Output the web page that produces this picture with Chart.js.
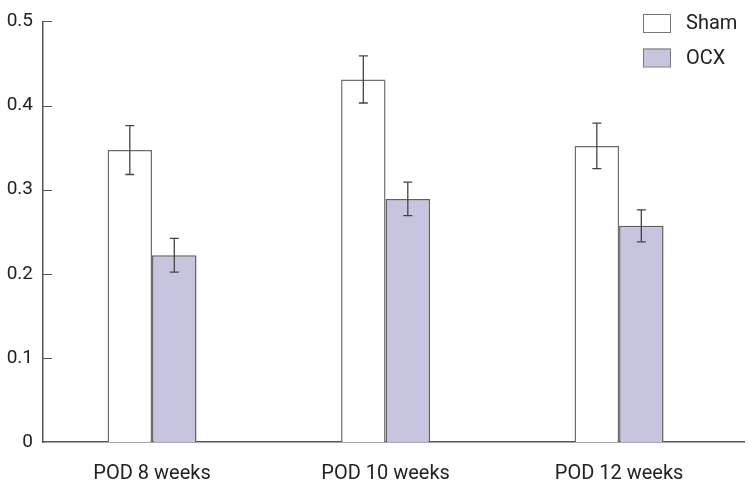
<!DOCTYPE html>
<html lang="en">
<head>
    <meta charset="UTF-8">
    <title>POD bars</title>
    <script src="https://cdn.jsdelivr.net/npm/chart.js@4.4.1/dist/chart.umd.min.js"></script>
    <style>
        html, body { margin: 0; padding: 0; background: #fff; }
        .wrap { width: 751px; height: 488px; }
    </style>
</head>
<body>
    <div class="wrap">
        <canvas id="barChart" width="751" height="488"></canvas>
    </div>

    <script>
        // data
        const categories = ['POD 8 weeks', 'POD 10 weeks', 'POD 12 weeks'];
        const shamValues = [0.347, 0.431, 0.352];
        const shamErrors = [0.029, 0.028, 0.027];
        const ocxValues = [0.222, 0.289, 0.257];
        const ocxErrors = [0.020, 0.020, 0.019];
        const yTicks = [0, 0.1, 0.2, 0.3, 0.4, 0.5];

        const FONT = 'Roboto, "DejaVu Sans Condensed", sans-serif';
        const AXIS = '#555';

        // bars sit on a numeric x axis so the groups line up like the original
        function toPoints(vals) {
            return vals.map(function (v, i) { return { x: i + 1, y: v }; });
        }

        const errorBars = {
            id: 'errorBars',
            afterDatasetsDraw(chart) {
                const ctx = chart.ctx;
                const y = chart.scales.y;
                ctx.save();
                ctx.strokeStyle = '#444';
                ctx.lineWidth = 1.3;
                chart.data.datasets.forEach(function (ds, di) {
                    const meta = chart.getDatasetMeta(di);
                    meta.data.forEach(function (bar, i) {
                        const v = ds.data[i].y, e = ds.errors[i];
                        const top = y.getPixelForValue(v + e);
                        const bot = y.getPixelForValue(v - e);
                        ctx.beginPath();
                        ctx.moveTo(bar.x, top); ctx.lineTo(bar.x, bot);
                        ctx.moveTo(bar.x - 4.5, top); ctx.lineTo(bar.x + 4.5, top);
                        ctx.moveTo(bar.x - 4.5, bot); ctx.lineTo(bar.x + 4.5, bot);
                        ctx.stroke();
                    });
                });
                ctx.restore();
            }
        };

        // tick marks point into the plot on the y axis
        const innerTicks = {
            id: 'innerTicks',
            afterDraw(chart) {
                const ctx = chart.ctx;
                const y = chart.scales.y;
                const left = chart.chartArea.left;
                ctx.save();
                ctx.strokeStyle = AXIS;
                ctx.lineWidth = 1;
                y.ticks.forEach(function (t, i) {
                    if (t.value === 0) return;
                    const py = Math.round(y.getPixelForTick(i)) + 0.5;
                    ctx.beginPath();
                    ctx.moveTo(left, py); ctx.lineTo(left + 9, py);
                    ctx.stroke();
                });
                ctx.restore();
            }
        };

        const boxLegend = {
            id: 'boxLegend',
            afterDraw(chart) {
                const ctx = chart.ctx;
                ctx.save();
                ctx.font = '20px ' + FONT;
                ctx.textBaseline = 'middle';
                chart.data.datasets.forEach(function (ds, i) {
                    const top = 14 + i * 34.5;
                    ctx.fillStyle = ds.backgroundColor;
                    ctx.fillRect(643, top, 27, 18);
                    ctx.strokeStyle = '#777';
                    ctx.lineWidth = 1;
                    ctx.strokeRect(643.5, top + 0.5, 27, 18);
                    ctx.fillStyle = '#222';
                    ctx.fillText(ds.label, 686, top + 10);
                });
                ctx.restore();
            }
        };

        const ctx = document.getElementById('barChart').getContext('2d');
        const chart = new Chart(ctx, {
            type: 'bar',
            data: {
                datasets: [
                    {
                        label: 'Sham',
                        data: toPoints(shamValues),
                        errors: shamErrors,
                        backgroundColor: '#ffffff',
                        borderColor: '#6e6e6e',
                        borderWidth: 1.5
                    },
                    {
                        label: 'OCX',
                        data: toPoints(ocxValues),
                        errors: ocxErrors,
                        backgroundColor: '#c6c4df',
                        borderColor: '#5e5e5e',
                        borderWidth: 1.5
                    }
                ]
            },
            plugins: [errorBars, innerTicks, boxLegend],
            options: {
                responsive: false,
                animation: false,
                categoryPercentage: 0.381,
                barPercentage: 1,
                layout: { padding: { top: 16, right: 7, left: 0, bottom: 0 } },
                plugins: {
                    legend: { display: false },
                    tooltip: { enabled: false }
                },
                scales: {
                    x: {
                        type: 'linear',
                        offset: false,
                        min: 0.533,
                        max: 3.535,
                        grid: { display: false, drawTicks: false },
                        border: { display: true, color: AXIS, width: 1.5 },
                        afterBuildTicks: function (scale) {
                            scale.ticks = categories.map(function (c, i) { return { value: i + 1 }; });
                        },
                        afterFit: function (scale) { scale.height = 46; },
                        ticks: {
                            padding: 20,
                            color: '#222',
                            maxRotation: 0,
                            autoSkip: false,
                            font: { family: FONT, size: 20 },
                            callback: function (v) { return categories[v - 1]; }
                        }
                    },
                    y: {
                        min: 0,
                        max: 0.5,
                        grid: { display: false, drawTicks: false },
                        border: { display: true, color: AXIS, width: 1.5 },
                        afterBuildTicks: function (scale) {
                            scale.ticks = yTicks.map(function (v) { return { value: v }; });
                        },
                        afterFit: function (scale) { scale.width = 43; },
                        ticks: {
                            padding: 10,
                            color: '#222',
                            font: { family: FONT, size: 19 },
                            callback: function (v) { return String(v); }
                        }
                    }
                }
            }
        });
    </script>
</body>
</html>
